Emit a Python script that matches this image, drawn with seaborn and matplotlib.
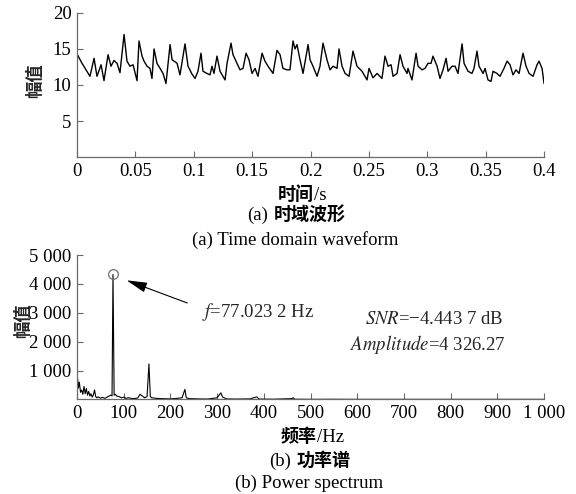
import matplotlib
matplotlib.use("Agg")
import matplotlib.pyplot as plt
from matplotlib.offsetbox import TextArea, HPacker, AnnotationBbox
import seaborn as sns
import pandas as pd

# ---- time-domain waveform: time (s) and amplitude ----
time_s = [
    0.0000, 0.0043, 0.0111, 0.0146, 0.0171, 0.0206, 0.0231, 0.0266, 0.0291, 0.0317,
    0.0343, 0.0368, 0.0403, 0.0428, 0.0454, 0.0480, 0.0514, 0.0531, 0.0557, 0.0574,
    0.0600, 0.0625, 0.0642, 0.0660, 0.0685, 0.0711, 0.0737, 0.0762, 0.0797, 0.0814,
    0.0857, 0.0882, 0.0925, 0.0951, 0.0985, 0.1011, 0.1036, 0.1062, 0.1079, 0.1113,
    0.1139, 0.1156, 0.1173, 0.1199, 0.1225, 0.1268, 0.1285, 0.1319, 0.1336, 0.1370,
    0.1396, 0.1422, 0.1448, 0.1473, 0.1499, 0.1525, 0.1550, 0.1585, 0.1610, 0.1636,
    0.1679, 0.1713, 0.1739, 0.1764, 0.1799, 0.1824, 0.1850, 0.1867, 0.1884, 0.1910,
    0.1936, 0.1979, 0.1996, 0.2021, 0.2056, 0.2081, 0.2107, 0.2141, 0.2167, 0.2193,
    0.2227, 0.2244, 0.2270, 0.2296, 0.2330, 0.2364, 0.2398, 0.2441, 0.2484, 0.2501,
    0.2535, 0.2570, 0.2612, 0.2638, 0.2664, 0.2690, 0.2707, 0.2741, 0.2767, 0.2792,
    0.2827, 0.2835, 0.2869, 0.2904, 0.2921, 0.2955, 0.2981, 0.3006, 0.3032, 0.3049,
    0.3084, 0.3109, 0.3135, 0.3161, 0.3178, 0.3212, 0.3238, 0.3263, 0.3298, 0.3315,
    0.3349, 0.3383, 0.3400, 0.3426, 0.3443, 0.3478, 0.3495, 0.3520, 0.3546, 0.3563,
    0.3597, 0.3623, 0.3657, 0.3683, 0.3709, 0.3734, 0.3760, 0.3786, 0.3820, 0.3846,
    0.3872, 0.3906, 0.3940, 0.3957, 0.3983, 0.4000,
]
amplitude = [
    14.3, 13.0, 11.2, 13.7, 11.2, 12.8, 10.6, 14.2, 12.6, 13.4,
    13.0, 11.7, 17.0, 13.3, 12.6, 12.8, 10.6, 16.1, 14.0, 13.3,
    12.6, 12.3, 10.9, 15.0, 13.0, 12.3, 11.6, 10.2, 15.6, 13.5,
    13.0, 11.4, 15.7, 12.6, 11.5, 10.9, 11.9, 14.4, 11.9, 11.6,
    11.4, 12.6, 11.6, 14.0, 11.9, 10.7, 13.0, 15.8, 14.2, 13.0,
    12.1, 12.3, 14.4, 13.5, 11.6, 12.3, 11.2, 14.4, 13.3, 12.6,
    11.6, 14.8, 14.2, 12.3, 12.1, 12.1, 16.1, 15.0, 15.6, 13.5,
    11.6, 15.6, 13.5, 12.6, 11.2, 12.6, 15.8, 13.5, 12.1, 12.6,
    12.3, 15.0, 12.6, 11.6, 11.2, 14.7, 12.6, 11.9, 10.7, 12.3,
    11.0, 11.6, 10.9, 14.0, 12.6, 12.8, 11.2, 11.6, 14.2, 12.6,
    11.6, 12.3, 10.7, 14.4, 12.6, 12.1, 12.3, 13.0, 13.0, 14.0,
    12.6, 10.9, 12.1, 13.7, 11.9, 12.6, 12.6, 11.6, 15.7, 13.0,
    11.9, 11.6, 12.3, 14.7, 12.6, 11.6, 12.3, 10.7, 10.5, 11.9,
    11.6, 11.2, 12.3, 13.3, 12.8, 11.4, 12.1, 11.6, 14.4, 12.6,
    11.6, 11.2, 12.8, 13.3, 12.3, 10.2,
]

# ---- power spectrum: frequency (Hz) and power ----
freq_hz = [
    0, 1.5, 3, 5, 7.5, 10, 12.5, 15, 17.5, 20,
    22.5, 25, 27.5, 30, 32.5, 35, 37.5, 40, 42.5, 45,
    50, 55, 60, 65, 70, 72.5, 75, 77.0232, 79.5, 82,
    85, 90, 95, 100, 105, 110, 120, 130, 135, 140,
    145, 150, 154, 157, 160, 170, 180, 200, 215, 225,
    231, 234, 240, 260, 280, 300, 308, 312, 320, 340,
    370, 385, 390, 420, 460, 463, 466, 500, 540, 600,
    700, 800, 900, 1000,
]
power = [
    650, 690, 400, 600, 250, 330, 180, 450, 200, 380,
    150, 280, 120, 200, 80, 150, 330, 100, 60, 90,
    50, 70, 40, 90, 130, 150, 120, 4326.27, 150, 180,
    120, 100, 60, 80, 40, 60, 30, 50, 180, 120,
    60, 100, 1230, 100, 60, 40, 30, 20, 40, 60,
    350, 60, 30, 20, 15, 60, 230, 80, 20, 15,
    20, 90, 15, 10, 30, 60, 10, 5, 8, 5,
    5, 5, 5, 5,
]

peak_freq = 77.0232
peak_power = 4326.27
snr_db = -4.4437

time_ticks = [0, 0.05, 0.1, 0.15, 0.2, 0.25, 0.3, 0.35, 0.4]
time_tick_labels = ["0", "0.05", "0.1", "0.15", "0.2", "0.25", "0.3", "0.35", "0.4"]
amp_ticks = [5, 10, 15, 20]
freq_ticks = [0, 100, 200, 300, 400, 500, 600, 700, 800, 900, 1000]
power_ticks = [1000, 2000, 3000, 4000, 5000]


def grouped(value, decimals):
    """Format a number with digits grouped in threes by spaces (GB style)."""
    text = f"{abs(value):.{decimals}f}"
    whole, _, frac = text.partition(".")
    whole_groups = []
    while len(whole) > 3:
        whole_groups.insert(0, whole[-3:])
        whole = whole[:-3]
    whole_groups.insert(0, whole)
    out = " ".join(whole_groups)
    if frac:
        out += "." + " ".join(frac[i:i + 3] for i in range(0, len(frac), 3))
    return ("\u2212" if value < 0 else "") + out


sns.set_theme(style="white")
plt.rcParams["font.family"] = ["Liberation Serif", "Noto Sans CJK SC"]
plt.rcParams["mathtext.fontset"] = "stix"
plt.rcParams["axes.unicode_minus"] = True

fig = plt.figure(figsize=(5.76, 4.94), dpi=100)
ax_t = fig.add_axes([0.1337, 0.682, 0.8108, 0.292])
ax_f = fig.add_axes([0.1337, 0.1913, 0.8108, 0.2925])

wave = pd.DataFrame({"t": time_s, "amp": amplitude})
spec = pd.DataFrame({"f": freq_hz, "p": power})

sns.lineplot(data=wave, x="t", y="amp", ax=ax_t, color="black", linewidth=1.0)
sns.lineplot(data=spec, x="f", y="p", ax=ax_f, color="black", linewidth=0.8)

spine_col = "#6a6a6a"
for ax in (ax_t, ax_f):
    sns.despine(ax=ax)
    for s in ("left", "bottom"):
        ax.spines[s].set_color(spine_col)
        ax.spines[s].set_linewidth(0.9)
    ax.tick_params(direction="in", length=4, width=0.8, color=spine_col,
                   pad=4, labelsize=13.5, labelcolor="black",
                   bottom=True, left=True)
    ax.set_xlabel("")
    ax.set_ylabel("")

ax_t.set_xlim(0, 0.4)
ax_t.set_ylim(0, 20)
ax_t.set_xticks(time_ticks, time_tick_labels)
ax_t.set_yticks(amp_ticks, [str(v) for v in amp_ticks])

ax_f.set_xlim(0, 1000)
ax_f.set_ylim(0, 5000)
ax_f.set_xticks(freq_ticks, [grouped(v, 0) for v in freq_ticks])
ax_f.set_yticks(power_ticks, [grouped(v, 0) for v in power_ticks])

# marked fundamental peak with arrow and readouts
ax_f.plot([peak_freq], [peak_power], marker="o", ms=7, mfc="none",
          mec="#707070", mew=0.9, clip_on=False)
ax_f.annotate("", xy=(106, 4125), xytext=(236, 3340),
              arrowprops=dict(arrowstyle="-|>,head_length=0.9,head_width=0.22",
                              color="black", lw=0.8, mutation_scale=14,
                              shrinkA=0, shrinkB=0))
ax_f.text(268, 3040, f"$f$={grouped(peak_freq, 4)} Hz", fontsize=13.5,
          va="center", ha="left")
ax_f.text(914, 2760, f"$SNR$={grouped(snr_db, 4)} dB", fontsize=13.5,
          va="center", ha="right")
ax_f.text(919, 1890, f"$Amplitude$={grouped(peak_power, 2)}", fontsize=13.5,
          va="center", ha="right")

# y-axis titles
for ypos, xpos in ((0.836, 0.061), (0.350, 0.040)):
    fig.text(xpos, ypos, "幅值", rotation=90, ha="center", va="center",
             fontsize=12.5, fontweight="bold", family="Noto Sans CJK SC")

serif = dict(fontsize=13.5, family="Liberation Serif", color="black")
hei = dict(fontsize=13, family="Noto Sans CJK SC", fontweight="bold", color="black")


def caption(x, y, parts, sep=0):
    """Place a line built from (text, props) pieces, centred at figure (x, y)."""
    boxes = [TextArea(t, textprops=p) for t, p in parts]
    row = HPacker(children=boxes, align="baseline", pad=0, sep=sep)
    ab = AnnotationBbox(row, (x, y), xycoords="figure fraction",
                        box_alignment=(0.5, 0.5), frameon=False, pad=0)
    fig.add_artist(ab)


caption(0.525, 0.607, [("时间", hei), ("/s", serif)])
caption(0.514, 0.565, [("(a)", serif), ("时域波形", hei)], sep=4)
caption(0.513, 0.514, [("(a) Time domain waveform", serif)])
caption(0.542, 0.1154, [("频率", hei), ("/Hz", serif)])
caption(0.538, 0.0675, [("(b)", serif), ("功率谱", hei)], sep=4)
caption(0.536, 0.0215, [("(b) Power spectrum", serif)])

fig.savefig("out.png", dpi=100, facecolor="white")
